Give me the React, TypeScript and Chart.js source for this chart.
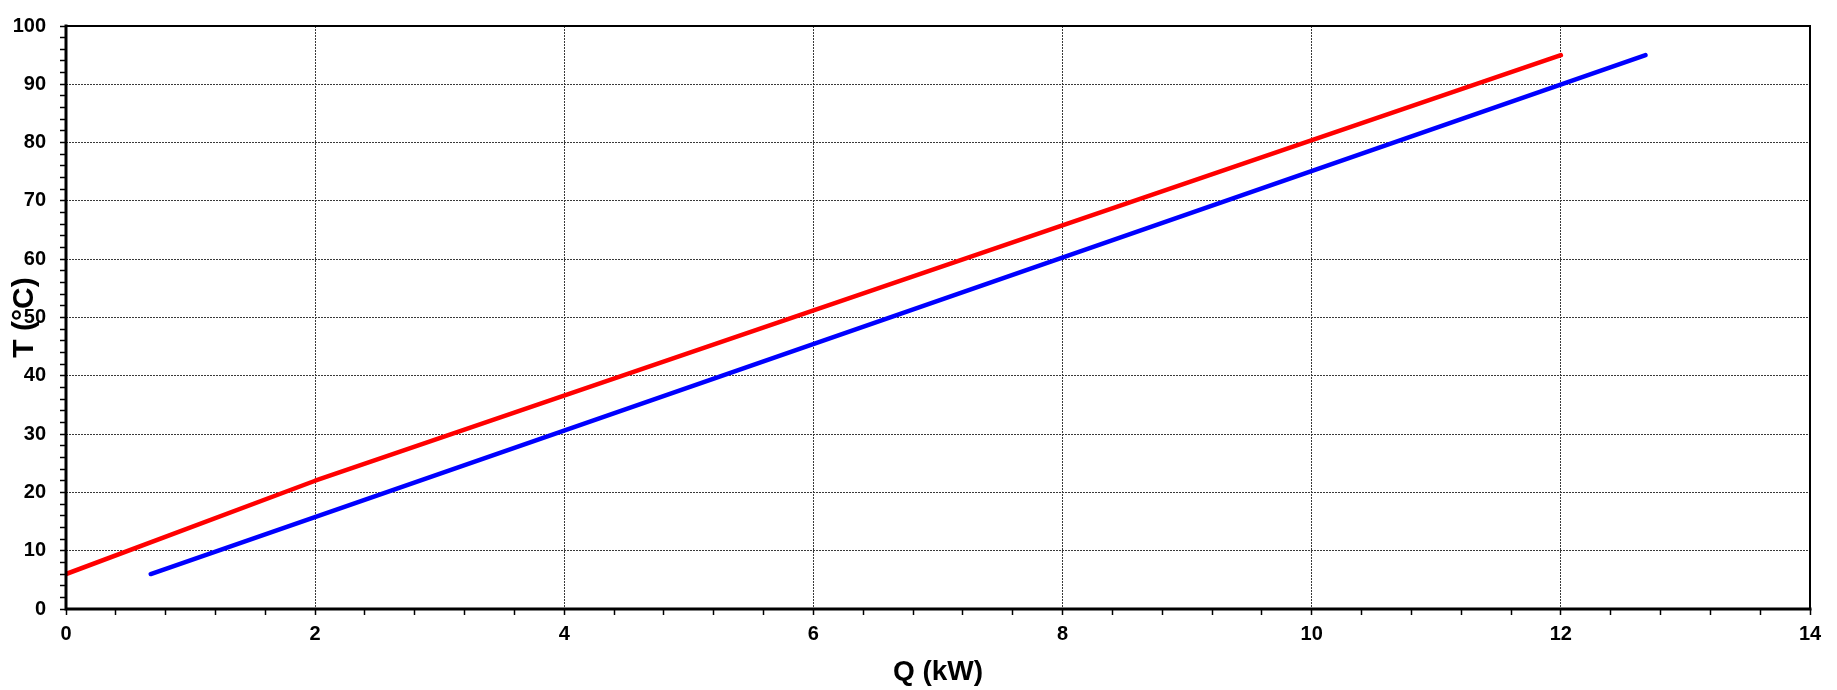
import React, { useEffect, useRef } from "react";
import { Chart, registerables } from "chart.js";

Chart.register(...registerables);

// ---- data ----
const RED_Q = [0, 2, 12];
const RED_T = [6, 22, 95];
const BLUE_Q = [0.68, 12.68];
const BLUE_T = [6, 95];

// ---- axes ----
const X_MIN = 0;
const X_MAX = 14;
const X_MAJOR_STEP = 2;
const X_MINOR_STEP = 0.4;
const Y_MIN = 0;
const Y_MAX = 100;
const Y_MAJOR_STEP = 10;
const Y_MINOR_STEP = 2;

const X_TITLE = "Q (kW)";
const Y_TITLE = "T (°C)";

const FONT_FAMILY = "Arial, 'Liberation Sans', Helvetica, sans-serif";

function buildTicks(min: number, max: number, step: number): number[] {
  const n = Math.round((max - min) / step);
  const out: number[] = [];
  for (let i = 0; i <= n; i++) out.push(Math.round((min + i * step) * 1000) / 1000);
  return out;
}

function isMajor(v: number, major: number): boolean {
  const r = v / major;
  return Math.abs(r - Math.round(r)) < 1e-6;
}

const framePlugin = {
  id: "frame",
  afterDraw(chart: any) {
    const { ctx, chartArea } = chart;
    const { left, right, top, bottom } = chartArea;
    ctx.save();
    ctx.strokeStyle = "#000";
    ctx.lineCap = "square";
    ctx.lineWidth = 2;
    ctx.beginPath();
    ctx.moveTo(left, top);
    ctx.lineTo(right, top);
    ctx.lineTo(right, bottom);
    ctx.stroke();
    ctx.lineWidth = 3;
    ctx.beginPath();
    ctx.moveTo(left, top);
    ctx.lineTo(left, bottom);
    ctx.lineTo(right, bottom);
    ctx.stroke();
    ctx.restore();
  },
};

export default function App() {
  const ref = useRef<HTMLCanvasElement | null>(null);

  useEffect(() => {
    document.body.style.margin = "0";
    const canvas = ref.current;
    if (!canvas) return;

    const xTicks = buildTicks(X_MIN, X_MAX, X_MINOR_STEP);
    const yTicks = buildTicks(Y_MIN, Y_MAX, Y_MINOR_STEP);

    const chart = new Chart(canvas, {
      type: "line",
      data: {
        datasets: [
          {
            label: "red",
            data: RED_Q.map((q, i) => ({ x: q, y: RED_T[i] })),
            borderColor: "#ff0000",
            backgroundColor: "#ff0000",
            borderWidth: 4.5,
            borderCapStyle: "round",
            borderJoinStyle: "round",
            pointRadius: 0,
            tension: 0,
            fill: false,
          },
          {
            label: "blue",
            data: BLUE_Q.map((q, i) => ({ x: q, y: BLUE_T[i] })),
            borderColor: "#0000ff",
            backgroundColor: "#0000ff",
            borderWidth: 4.5,
            borderCapStyle: "round",
            borderJoinStyle: "round",
            pointRadius: 0,
            tension: 0,
            fill: false,
          },
        ],
      },
      options: {
        responsive: false,
        animation: false,
        devicePixelRatio: 1,
        layout: { padding: { left: 0, top: 15, right: 27, bottom: 0 } },
        plugins: {
          legend: { display: false },
          tooltip: { enabled: false },
        },
        scales: {
          x: {
            type: "linear",
            min: X_MIN,
            max: X_MAX,
            afterBuildTicks: (scale: any) => {
              scale.ticks = xTicks.map((v) => ({ value: v }));
            },
            afterFit: (scale: any) => {
              scale.height = 81;
            },
            ticks: {
              autoSkip: false,
              maxRotation: 0,
              minRotation: 0,
              padding: 7,
              color: "#000",
              font: { family: FONT_FAMILY, size: 20, weight: "bold" },
              callback: (v: any) => (isMajor(Number(v), X_MAJOR_STEP) ? String(Math.round(Number(v))) : ""),
            },
            grid: {
              drawTicks: true,
              tickLength: 6,
              tickWidth: 1.5,
              tickColor: "#000",
              lineWidth: 1,
              color: (c: any) =>
                c.tick && isMajor(c.tick.value, X_MAJOR_STEP) ? "#3a3a3a" : "rgba(0,0,0,0)",
            },
            border: { display: false, dash: [2, 1] },
            title: {
              display: true,
              text: X_TITLE,
              color: "#000",
              font: { family: FONT_FAMILY, size: 28, weight: "bold" },
              padding: { top: 0, bottom: 1 },
            },
          },
          y: {
            type: "linear",
            min: Y_MIN,
            max: Y_MAX,
            afterBuildTicks: (scale: any) => {
              scale.ticks = yTicks.map((v) => ({ value: v }));
            },
            afterFit: (scale: any) => {
              scale.width = 66;
            },
            ticks: {
              autoSkip: false,
              padding: 14,
              color: "#000",
              font: { family: FONT_FAMILY, size: 20, weight: "bold" },
              callback: (v: any) => (isMajor(Number(v), Y_MAJOR_STEP) ? String(Math.round(Number(v))) : ""),
            },
            grid: {
              drawTicks: true,
              tickLength: 6,
              tickWidth: 1.5,
              tickColor: "#000",
              lineWidth: 1,
              color: (c: any) =>
                c.tick && isMajor(c.tick.value, Y_MAJOR_STEP) ? "#3a3a3a" : "rgba(0,0,0,0)",
            },
            border: { display: false, dash: [2, 1] },
            title: {
              display: true,
              text: Y_TITLE,
              color: "#000",
              font: { family: FONT_FAMILY, size: 30, weight: "bold" },
              padding: { top: 7, bottom: 0 },
            },
          },
        },
      },
      plugins: [framePlugin],
    } as any);

    return () => chart.destroy();
  }, []);

  return (
    <div style={{ position: "absolute", left: 0, top: 0, width: 1837, height: 690 }}>
      <canvas ref={ref} width={1837} height={690} style={{ display: "block" }} />
    </div>
  );
}
